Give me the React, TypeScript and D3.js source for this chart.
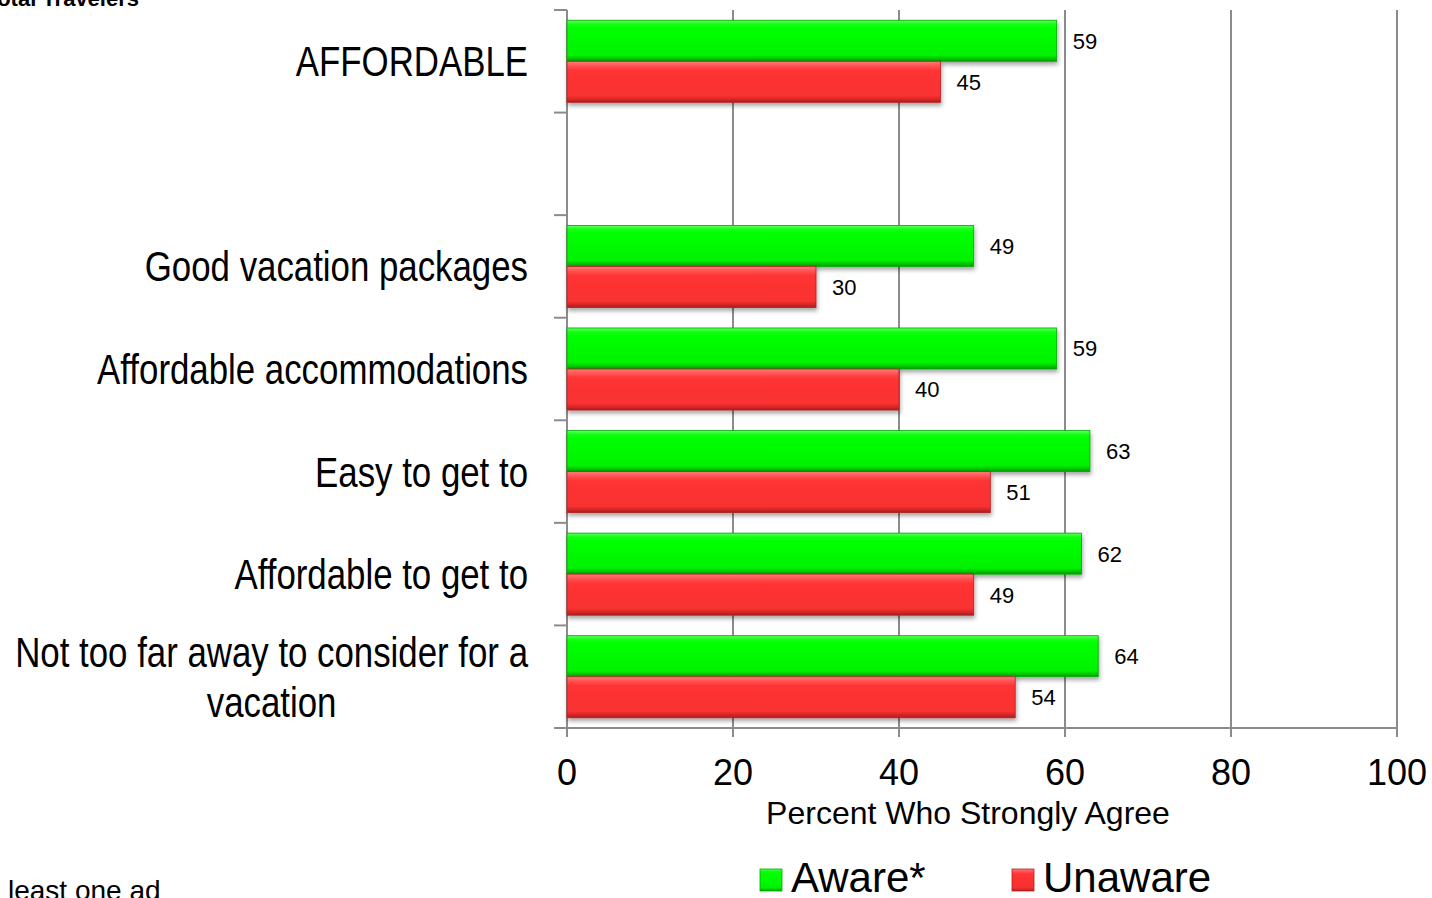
import React, { useEffect, useRef } from "react";
import * as d3 from "d3";

const categories = [
  "AFFORDABLE",
  "",
  "Good vacation packages",
  "Affordable accommodations",
  "Easy to get to",
  "Affordable to get to",
  "Not too far away to consider for a|vacation",
];
const awareValues: (number | null)[] = [59, null, 49, 59, 63, 62, 64];
const unawareValues: (number | null)[] = [45, null, 30, 40, 51, 49, 54];
const seriesNames = ["Aware*", "Unaware"];
const xTicks = [0, 20, 40, 60, 80, 100];
const xAxisTitle = "Percent Who Strongly Agree";
const topNote = "Total Travelers";
const bottomNote = "least one ad";

const W = 1432;
const H = 898;
const M = { left: 567, right: 35, top: 10, bottom: 170 };
const SANS = "'Liberation Sans', Arial, sans-serif";
const NARROW_SCALE = 0.81;

export default function App() {
  const ref = useRef<SVGSVGElement | null>(null);

  useEffect(() => {
    document.body.style.margin = "0";
    const svg = d3.select(ref.current);
    svg.selectAll("*").remove();

    const x = d3.scaleLinear().domain([0, 100]).range([M.left, W - M.right]);
    const y = d3
      .scaleBand<string>()
      .domain(categories.map((_, i) => String(i)))
      .range([M.top, H - M.bottom])
      .padding(0);
    const inner = d3
      .scaleBand<string>()
      .domain(["aware", "unaware"])
      .range([0, y.bandwidth()])
      .paddingInner(0)
      .paddingOuter(0.25);

    const defs = svg.append("defs");
    const mkGrad = (id: string, stops: [number, string][]) => {
      const g = defs
        .append("linearGradient")
        .attr("id", id)
        .attr("x1", 0)
        .attr("y1", 0)
        .attr("x2", 0)
        .attr("y2", 1);
      stops.forEach(([o, c]) => g.append("stop").attr("offset", o).attr("stop-color", c));
    };
    mkGrad("gGreen", [
      [0, "#5cff5c"],
      [0.1, "#12ff12"],
      [0.2, "#00ff00"],
      [0.85, "#00f200"],
      [0.93, "#00c800"],
      [1, "#009a00"],
    ]);
    mkGrad("gRed", [
      [0, "#ff7a7a"],
      [0.12, "#ff5050"],
      [0.22, "#ff3434"],
      [0.85, "#f83030"],
      [0.93, "#d42626"],
      [1, "#a81c1c"],
    ]);
    const f = defs
      .append("filter")
      .attr("id", "shadow")
      .attr("x", "-5%")
      .attr("y", "-20%")
      .attr("width", "110%")
      .attr("height", "160%");
    f.append("feDropShadow")
      .attr("dx", 1)
      .attr("dy", 3)
      .attr("stdDeviation", 2)
      .attr("flood-color", "#000")
      .attr("flood-opacity", 0.35);

    // gridlines
    const grid = svg.append("g");
    xTicks.forEach((t) => {
      grid
        .append("line")
        .attr("x1", x(t))
        .attr("x2", x(t))
        .attr("y1", M.top)
        .attr("y2", H - M.bottom + 9)
        .attr("stroke", "#8c8c8c")
        .attr("stroke-width", 2);
    });
    grid
      .append("line")
      .attr("x1", x(0) - 13)
      .attr("x2", x(100) + 1)
      .attr("y1", H - M.bottom)
      .attr("y2", H - M.bottom)
      .attr("stroke", "#8c8c8c")
      .attr("stroke-width", 2);
    categories.forEach((_, i) => {
      const yy = y(String(i))!;
      grid
        .append("line")
        .attr("x1", x(0) - 13)
        .attr("x2", x(0))
        .attr("y1", yy)
        .attr("y2", yy)
        .attr("stroke", "#8c8c8c")
        .attr("stroke-width", 2);
    });

    // bars
    const barsG = svg.append("g");
    const series = [
      { key: "aware", values: awareValues, fill: "url(#gGreen)", stroke: "#00a800" },
      { key: "unaware", values: unawareValues, fill: "url(#gRed)", stroke: "#b22222" },
    ];
    series.forEach((s) => {
      s.values.forEach((v, i) => {
        if (v == null) return;
        const by = y(String(i))! + inner(s.key)!;
        const bh = inner.bandwidth();
        barsG
          .append("rect")
          .attr("x", x(0))
          .attr("y", by)
          .attr("width", x(v) - x(0))
          .attr("height", bh)
          .attr("fill", s.fill)
          .attr("stroke", s.stroke)
          .attr("stroke-width", 0.8)
          .attr("filter", "url(#shadow)");
        barsG
          .append("text")
          .attr("x", x(v) + 16)
          .attr("y", by + bh / 2)
          .attr("dy", "0.36em")
          .attr("font-family", SANS)
          .attr("font-size", 22)
          .attr("fill", "#000")
          .text(String(v));
      });
    });

    // category labels (narrow: horizontally condensed)
    const labG = svg.append("g");
    const narrowText = (xPos: number, yPos: number, anchor: string, s: string) =>
      labG
        .append("text")
        .attr("transform", `translate(${xPos},${yPos}) scale(${NARROW_SCALE},1)`)
        .attr("text-anchor", anchor)
        .attr("font-family", SANS)
        .attr("font-size", 43)
        .text(s);
    categories.forEach((c, i) => {
      if (!c) return;
      const cy = y(String(i))! + y.bandwidth() / 2;
      const lines = c.split("|");
      if (lines.length === 1) {
        narrowText(528, cy + 15, "end", lines[0]);
      } else {
        const t1 = narrowText(528, cy - 10, "end", lines[0]);
        const w = (t1.node() as SVGTextElement).getComputedTextLength() * NARROW_SCALE;
        narrowText(528 - w / 2, cy + 40, "middle", lines[1]);
      }
    });

    // x tick labels
    xTicks.forEach((t) => {
      svg
        .append("text")
        .attr("x", x(t))
        .attr("y", 785)
        .attr("text-anchor", "middle")
        .attr("font-family", SANS)
        .attr("font-size", 36)
        .text(String(t));
    });
    svg
      .append("text")
      .attr("x", 968)
      .attr("y", 824)
      .attr("text-anchor", "middle")
      .attr("font-family", SANS)
      .attr("font-size", 32)
      .text(xAxisTitle);

    // legend
    const legend = [
      { name: seriesNames[0], fill: "url(#gGreen)", stroke: "#00a800", x: 760 },
      { name: seriesNames[1], fill: "url(#gRed)", stroke: "#b22222", x: 1012 },
    ];
    legend.forEach((l) => {
      svg
        .append("rect")
        .attr("x", l.x)
        .attr("y", 869)
        .attr("width", 22)
        .attr("height", 22)
        .attr("fill", l.fill)
        .attr("stroke", l.stroke)
        .attr("stroke-width", 0.8);
      svg
        .append("text")
        .attr("x", l.x + 31)
        .attr("y", 892)
        .attr("font-family", SANS)
        .attr("font-size", 42)
        .text(l.name);
    });

    // notes (partially cropped, as in the reference)
    svg
      .append("text")
      .attr("x", 139)
      .attr("y", 6)
      .attr("text-anchor", "end")
      .attr("font-family", SANS)
      .attr("font-weight", "bold")
      .attr("font-size", 22)
      .text(topNote);
    svg
      .append("text")
      .attr("x", 8)
      .attr("y", 900)
      .attr("font-family", SANS)
      .attr("font-size", 28)
      .text(bottomNote);
  }, []);

  return (
    <svg
      ref={ref}
      width={W}
      height={H}
      style={{ display: "block", background: "#fff" }}
    />
  );
}
